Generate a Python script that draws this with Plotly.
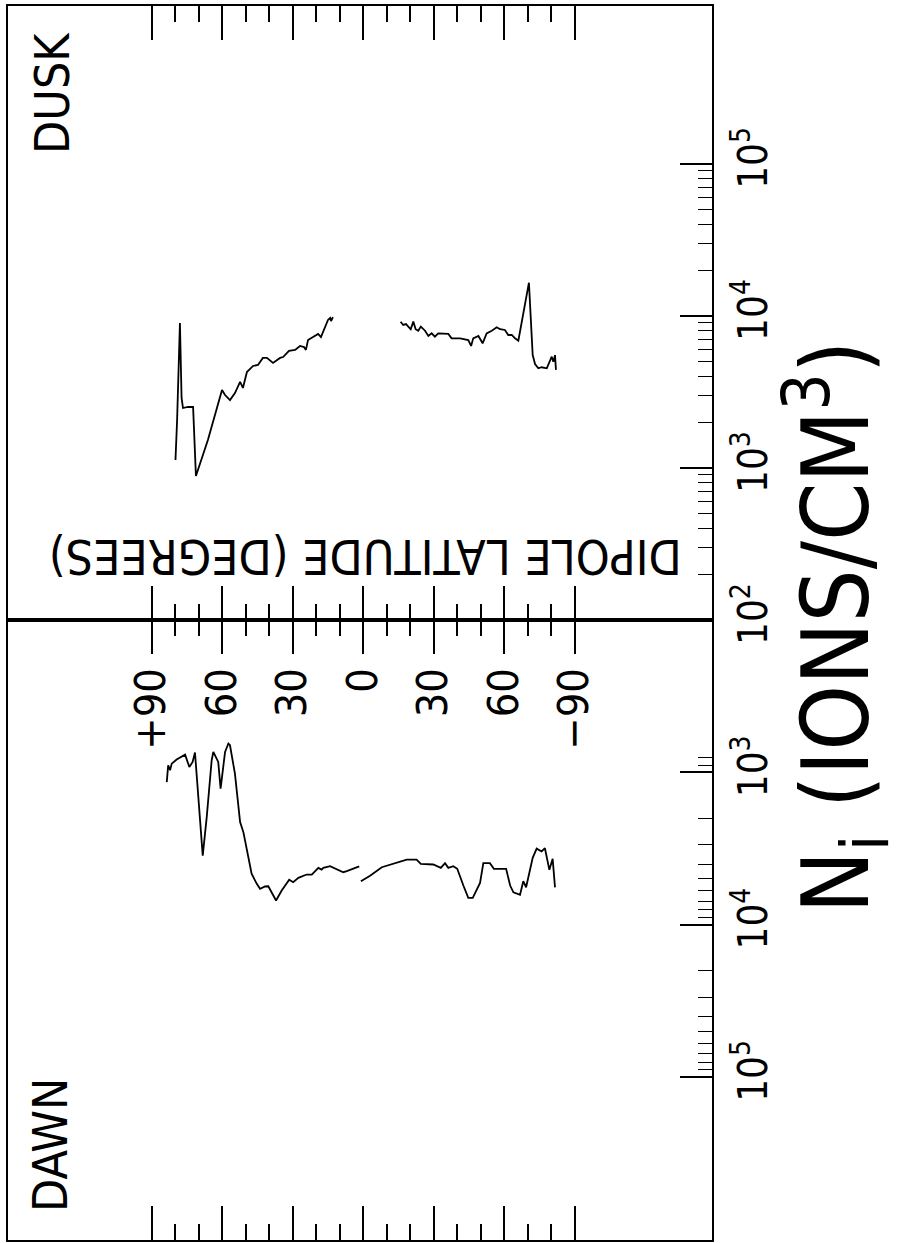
import plotly.graph_objects as go

# ---- ion density N_i (ions/cm^3) versus dipole latitude (deg) ----
# dusk pass, northern segment
dusk_n_lat = [79.8, 79.1, 77.9, 77.2, 76.6, 74.5, 72.3, 71.1, 66.0, 60.0,
              58.7, 56.6, 54.5, 52.3, 51.1, 49.4, 46.8, 44.7, 42.6, 40.9,
              38.3, 35.3, 34.0, 31.5, 28.9, 26.8, 25.1, 24.3, 23.4, 20.4,
              19.1, 17.9, 16.2, 14.9, 14.0, 13.6, 12.8]
dusk_n_ni = [1130, 2070, 8990, 2890, 2480, 2520, 2520, 885, 1530, 3260,
             3020, 2800, 3110, 3680, 3360, 4280, 4690, 4760, 5300, 5300,
             4910, 5300, 5370, 5890, 5980, 6350, 6250, 5980, 6950, 7390,
             7620, 7270, 8470, 9420, 9710, 9270, 9840]

# dusk pass, southern segment
dusk_s_lat = [-16.0, -17.1, -18.3, -19.3, -20.3, -21.4, -22.4, -23.5, -24.6, -26.4,
              -27.8, -29.2, -30.6, -32.0, -34.2, -36.3, -37.7, -41.3, -44.8, -46.0,
              -46.9, -49.1, -50.9, -52.6, -54.8, -56.9, -58.3, -60.4, -61.8, -63.3,
              -64.7, -66.1, -70.6, -72.2, -73.2, -74.6, -76.0, -78.2, -80.3, -81.0,
              -81.7, -82.1]
dusk_s_ni = [9160, 8730, 8850, 8510, 8180, 9180, 8180, 8000, 8510, 8000,
             7390, 7690, 7310, 7690, 7620, 7620, 7130, 7130, 6950, 6350,
             7130, 7390, 6610, 7690, 8000, 8430, 8180, 8090, 7500, 7500,
             7130, 6880, 16560, 5530, 4830, 4530, 4600, 4530, 5400, 5000,
             5530, 4420]

# dawn pass, northern segment
dawn_n_lat = [83.5, 82.9, 82.1, 81.4, 79.3, 77.1, 75.7, 73.9, 72.5, 71.5,
              68.2, 66.5, 64.4, 63.7, 61.6, 60.6, 58.7, 57.3, 56.6, 54.5,
              52.3, 50.9, 47.4, 45.2, 43.8, 41.7, 40.3, 37.0, 34.6, 31.4,
              29.7, 27.5, 24.0, 21.8, 19.0, 17.6, 16.9, 14.0, 11.2, 8.4,
              6.9, 4.1, 1.6]
dawn_n_ni = [1160, 899, 970, 877, 824, 785, 765, 923, 855, 741,
             3520, 1970, 834, 735, 855, 1280, 735, 647, 664, 1020,
             2120, 2470, 4630, 5400, 5820, 5620, 5600, 6950, 5970, 5080,
             5270, 4930, 4690, 4690, 4240, 4350, 4240, 4130, 4300, 4530,
             4460, 4300, 4150]

# dawn pass, southern segment
dawn_s_lat = [0.9, -3.0, -8.0, -12.9, -18.6, -22.8, -24.6, -29.9, -33.1, -34.9,
              -36.3, -38.4, -40.1, -42.7, -44.8, -46.7, -49.8, -51.2, -54.0, -55.7,
              -60.9, -62.6, -64.0, -66.8, -68.2, -69.4, -72.2, -73.9, -76.0, -77.4,
              -79.3, -80.7, -81.7]
dawn_s_ni = [5190, 4770, 4200, 3990, 3740, 3740, 3990, 4030, 4240, 3950,
             4240, 4130, 4300, 5540, 6670, 6670, 5320, 3950, 3950, 4300,
             4300, 5540, 6140, 6380, 5190, 5690, 3640, 3170, 3310, 3150,
             4370, 3700, 5690]

# ---- axis ticks and labels ----
lat_major = [90, 60, 30, 0, -30, -60, -90]
lat_labels = ["+90", "60", "30", "0", "30", "60", "\u221290"]
lat_minor = [v for v in range(-80, 90, 10) if v % 30 != 0]

dusk_ticks = [1e2, 1e3, 1e4, 1e5]
dusk_ticktext = ["10<sup>2</sup>", "10<sup>3</sup>", "10<sup>4</sup>", "10<sup>5</sup>"]
dawn_ticks = [1e3, 1e4, 1e5]
dawn_ticktext = ["10<sup>3</sup>", "10<sup>4</sup>", "10<sup>5</sup>"]
ni_minor = [k * 10 ** n for n in range(2, 5) for k in range(2, 10)]

FONT = "DejaVu Sans Condensed, Liberation Sans Narrow, Liberation Sans, sans-serif"
INK = "black"

LAT_RANGE = [151.06, -148.5]
SPLIT = 0.5024

fig = go.Figure()

line_style = dict(color=INK, width=1.8)
fig.add_trace(go.Scatter(x=dusk_n_lat, y=dusk_n_ni, mode="lines", line=line_style,
                         xaxis="x", yaxis="y", showlegend=False, hoverinfo="skip"))
fig.add_trace(go.Scatter(x=dusk_s_lat, y=dusk_s_ni, mode="lines", line=line_style,
                         xaxis="x", yaxis="y", showlegend=False, hoverinfo="skip"))
fig.add_trace(go.Scatter(x=dawn_n_lat, y=dawn_n_ni, mode="lines", line=line_style,
                         xaxis="x2", yaxis="y2", showlegend=False, hoverinfo="skip"))
fig.add_trace(go.Scatter(x=dawn_s_lat, y=dawn_s_ni, mode="lines", line=line_style,
                         xaxis="x2", yaxis="y2", showlegend=False, hoverinfo="skip"))

common_x = dict(
    range=LAT_RANGE, showgrid=False, zeroline=False, automargin=False,
    showline=True, linecolor=INK, linewidth=2, mirror="allticks",
    ticks="inside", ticklen=34, tickwidth=1.6, tickcolor=INK,
    tickvals=lat_major,
    minor=dict(tickvals=lat_minor, ticks="inside", ticklen=16,
               tickwidth=1.6, tickcolor=INK, showgrid=False),
)

common_y = dict(
    type="log", showgrid=False, zeroline=False, automargin=False,
    showline=True, linecolor=INK, linewidth=2, mirror=True,
    side="right", ticks="inside", ticklen=32, tickwidth=1.6, tickcolor=INK,
    tickangle=-90, ticklabelstandoff=5,
    tickfont=dict(family=FONT, size=40, color=INK),
    minor=dict(tickvals=ni_minor, ticks="inside", ticklen=14,
               tickwidth=1.4, tickcolor=INK, showgrid=False),
)

fig.update_layout(
    width=907, height=1243,
    margin=dict(l=8, r=195, t=6, b=3, autoexpand=False),
    paper_bgcolor="white", plot_bgcolor="white",
    xaxis=dict(common_x, anchor="y", domain=[0, 1], showticklabels=False),
    yaxis=dict(common_y, anchor="x", domain=[SPLIT, 1], range=[2, 6.039],
               tickvals=dusk_ticks, ticktext=dusk_ticktext),
    xaxis2=dict(common_x, anchor="y2", domain=[0, 1], side="top",
                ticklabelposition="inside", tickangle=-90,
                ticktext=lat_labels, ticklabelstandoff=-4,
                tickfont=dict(family=FONT, size=43, color=INK)),
    yaxis2=dict(common_y, anchor="x2", domain=[0, SPLIT], range=[6.071, 2],
                tickvals=dawn_ticks, ticktext=dawn_ticktext),
)

ann_font = dict(family=FONT, color=INK)
ann_common = dict(xref="paper", yref="paper", showarrow=False,
                  xanchor="center", yanchor="middle")
fig.add_annotation(text="DUSK", x=0.0625, y=0.9295, textangle=-90,
                   font=dict(ann_font, size=48), **ann_common)
fig.add_annotation(text="DAWN", x=0.0597, y=0.077, textangle=-90,
                   font=dict(ann_font, size=48), **ann_common)
fig.add_annotation(text="DIPOLE LATITUDE (DEGREES)", x=0.507, y=0.5535,
                   textangle=180, font=dict(ann_font, size=48), **ann_common)
fig.add_annotation(text="N<sub>i</sub> (IONS/CM<sup>3</sup>)", x=1.176, y=0.497,
                   textangle=-90, font=dict(ann_font, size=93), **ann_common)

fig.write_html("out.html")
